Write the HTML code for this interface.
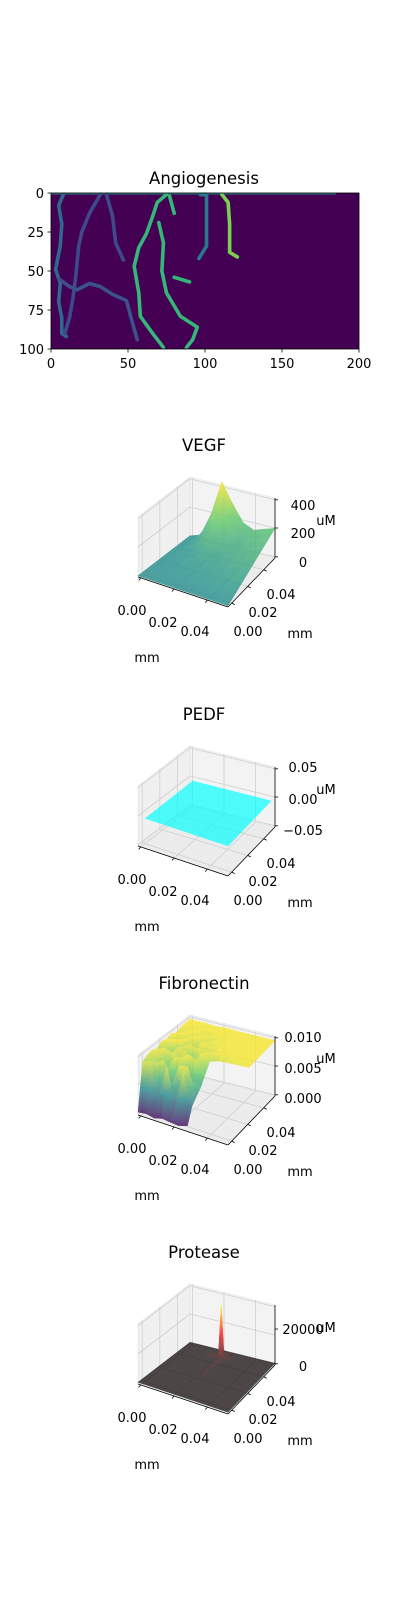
<!DOCTYPE html>
<html><head><meta charset="utf-8">
<style>
html,body{margin:0;padding:0;background:#fff;}
svg{display:block;font-family:"DejaVu Sans","Liberation Sans",sans-serif;}
.tk{font-size:13px;fill:#000;}
.tt{font-size:16.5px;fill:#000;}
</style></head>
<body>
<svg id="fig" width="400" height="1600" viewBox="0 0 400 1600" xmlns="http://www.w3.org/2000/svg">
  <defs id="defs"></defs>
  <g id="angio">
    <text class="tt" x="204" y="184" text-anchor="middle">Angiogenesis</text>
    <rect x="51" y="193" width="308" height="156" fill="#440154"/>
    <g id="vessels"></g>
    <rect x="51" y="193" width="308" height="156" fill="none" stroke="#000" stroke-width="0.8"/>
    <g id="angioTicks"></g>
  </g>
  <g id="panels3d"></g>
</svg>
<script>
const angioXTicks=[0,50,100,150,200];
const angioYTicks=[0,25,50,75,100];
const vesselColors=["#31688e","#3e4a89","#3e4a89","#3b528b","#2a788e","#35b779","#35b779","#35b779","#35b779","#7ad151"];
const vesselPaths=[
 [[8,1],[5,8],[7,20],[6,34],[3,49],[6,58],[5,70],[7,80],[7,90],[10,92]],
 [[32,1],[25,13],[20,25],[18,34],[16,54],[14,69],[12,80],[9,90]],
 [[36,1],[40,15],[42,32],[47,43]],
 [[5,55],[12,60],[17,62],[25,58],[32,60],[40,65],[49,69],[52,80],[56,94]],
 [[97,1],[101,1],[101,21],[101,34],[96,42]],
 [[75,1],[69,6],[66,15],[62,26],[57,35],[54,47],[57,64],[58,79],[66,90],[73,99]],
 [[70,19],[73,32],[72,50],[75,64],[84,79],[95,86],[92,94],[88,99]],
 [[77,2],[80,13]],
 [[80,54],[90,57]],
 [[111,1],[115,6],[116,20],[116,32],[116,38],[121,41]]
];
const topLineEnd=185;

const vegfS=[0,0.125,0.25,0.375,0.5,0.625,0.75,0.875,1];
const vegfT=[0,0.125,0.25,0.375,0.5,0.625,0.75,0.875,1];
const vegfZ=[
 [0,0,0,0,0,0,0,0,0],
 [0,3,6,9,13,16,19,22,25],
 [0,6,13,19,25,31,38,44,50],
 [0,9,19,28,38,47,56,66,75],
 [0,13,25,53,50,63,75,88,100],
 [0,16,31,87,88,78,94,109,125],
 [0,19,68,156,135,94,113,131,150],
 [0,22,124,316,238,139,131,153,175],
 [0,25,190,435,300,185,150,175,200]
];
const pedfS=[0.08,1];
const pedfT=[0,0.92];
const pedfZ=[[0,0],[0,0]];
const fibS=[0,0.09,0.18,0.27,0.36,0.45,0.55,0.64,0.73,0.82,0.91,1];
const fibT=[0,0.09,0.18,0.27,0.36,0.45,0.55,0.64,0.73,0.82,0.91,1];
const fibZ=[
 [0.3,0.5,0.2,0.6,0.4,0.3,0.8,null,null,null,null,null],
 [8.5,9.0,3.0,9.0,2.0,8.8,3.5,null,null,null,null,null],
 [9.0,8.2,9.0,5.0,9.0,9.2,4.5,null,null,null,null,null],
 [9.3,9.0,7.0,9.4,8.0,6.0,5.5,null,null,null,null,null],
 [8.8,9.4,9.0,8.5,9.5,9.0,7.0,null,null,null,null,null],
 [9.5,7.5,9.2,9.0,6.5,9.4,8.5,9.0,9.2,9.3,9.4,9.5],
 [9.2,9.6,8.6,9.5,9.1,8.8,9.3,9.5,9.5,9.5,9.5,9.5],
 [9.6,8.9,9.4,8.2,9.6,9.2,9.4,9.5,9.5,9.5,9.5,9.5],
 [9.0,9.5,9.1,9.6,8.8,9.5,9.5,9.5,9.5,9.5,9.5,9.5],
 [9.4,9.2,9.6,9.0,9.4,9.3,9.5,9.5,9.5,9.5,9.5,9.5],
 [9.5,9.6,9.3,9.5,9.6,9.4,9.5,9.5,9.5,9.5,9.5,9.5],
 [9.6,9.5,9.6,9.4,9.5,9.6,9.5,9.5,9.5,9.5,9.5,9.5]
];
const protS=[0,0.3,0.42,0.45,0.48,0.6,1];
const protT=[0,0.4,0.8,0.86,0.9,1];
const protZ=[
 [0,0,0,0,0,0,0],
 [0,0,0,0,0,0,0],
 [0,0,0,1500,0,0,0],
 [0,0,1500,30000,2000,0,0],
 [0,0,0,2000,0,0,0],
 [0,0,0,0,0,0,0]
];
const titles=["VEGF","PEDF","Fibronectin","Protease"];
const xTickLabels=["0.00","0.02","0.04"];
const yTickLabels=["0.04","0.02","0.00"];
const vegfZTicks=["400","200","0"];
const pedfZTicks=["0.05","0.00","\u22120.05"];
const fibZTicks=["0.010","0.005","0.000"];
const protZTicks=["20000","0"];

const NS="http://www.w3.org/2000/svg";
function mk(parent,tag,attrs,txt){const e=document.createElementNS(NS,tag);for(const k in attrs)e.setAttribute(k,attrs[k]);if(txt!==undefined)e.textContent=txt;parent.appendChild(e);return e;}

const ax=x=>51+x*308/200, ay=y=>193+y*156/100;
const vg=document.getElementById('vessels');
const topVessel=mk(vg,'line',{x1:ax(0),y1:ay(0.4),x2:ax(topLineEnd),y2:ay(0.4),stroke:'#2a8a8c','stroke-width':1.4});


vesselPaths.forEach((p,i)=>{
  const pl=mk(vg,'polyline',{points:p.map(q=>ax(q[0])+','+ay(q[1])).join(' '),fill:'none',stroke:vesselColors[i],'stroke-width':3.6,'stroke-linejoin':'round','stroke-linecap':'round'});
  
  
});
const atg=document.getElementById('angioTicks');
angioXTicks.forEach(v=>{
  const l=mk(atg,'line',{x1:ax(v),x2:ax(v),y1:349,y2:352.5,stroke:'#000','stroke-width':0.8});
  
  
  const t=mk(atg,'text',{x:ax(v),y:368,'text-anchor':'middle',class:'tk'},String(v));
  
  
});
angioYTicks.forEach(v=>{
  const l=mk(atg,'line',{x1:47.5,x2:51,y1:ay(v),y2:ay(v),stroke:'#000','stroke-width':0.8});
  
  
  const t=mk(atg,'text',{x:44,y:ay(v)+5,'text-anchor':'end',class:'tk'},String(v));
  
  
});

function hex(c){return '#'+c.map(v=>Math.max(0,Math.min(255,Math.round(v))).toString(16).padStart(2,'0')).join('');}
function cmap(stops,v){v=Math.max(0,Math.min(1,v));for(let i=1;i<stops.length;i++){if(v<=stops[i][0]){const a=stops[i-1],b=stops[i];const f=(v-a[0])/(b[0]-a[0]||1);return hex([0,1,2].map(k=>a[1][k]+(b[1][k]-a[1][k])*f));}}return hex(stops[stops.length-1][1]);}
const viridis=[[0,[68,1,84]],[0.25,[59,82,139]],[0.5,[33,145,140]],[0.75,[94,201,98]],[1,[253,231,37]]];
const hot=[[0,[10,0,0]],[0.375,[255,0,0]],[0.75,[255,255,0]],[1,[255,255,255]]];
const cyan=[[0,[0,255,255]],[1,[0,255,255]]];

const tickS=[0.03,0.4,0.77], tickT=[0.08,0.42,0.76], tickZ=[0.02,0.5,0.97];
function proj(k,s,t,zn){
  const dy=269*k;
  const x=(1-s)*(1-t)*138+s*(1-t)*228+(1-s)*t*190+s*t*275;
  const y=(1-s)*(1-t)*577+s*(1-t)*607+(1-s)*t*537+s*t*558+dy-zn*60;
  return [x,y];
}
const panels=[
 {S:vegfS,T:vegfT,Z:vegfZ,zMin:-8.4,zMax:412,cm:viridis,vmin:-400,vmax:440,op:0.78,zl:vegfZTicks,zy:[505,533,562]},
 {S:pedfS,T:pedfT,Z:pedfZ,zMin:-0.053,zMax:0.053,cm:cyan,vmin:0,vmax:1,op:0.68,zl:pedfZTicks,zy:[498,530,561]},
 {S:fibS,T:fibT,Z:fibZ,zMin:-0.2,zMax:10.3,cm:viridis,vmin:0,vmax:9.6,op:0.78,zl:fibZTicks,zy:[499,530,560]},
 {S:protS,T:protT,Z:protZ,zMin:-1000,zMax:33000,cm:hot,vmin:0,vmax:40000,op:0.7,zl:protZTicks,zy:[522,559]}
];
const root=document.getElementById('panels3d');
const defs=document.getElementById('defs');
let gid=0;
function pts(a){return a.map(p=>p[0].toFixed(2)+','+p[1].toFixed(2)).join(' ');}
panels.forEach((P,k)=>{
  const dy=269*k;
  const g=mk(root,'g',{});
  
  
  const ti=mk(g,'text',{x:204,y:451+dy,'text-anchor':'middle',class:'tt'},titles[k]);
  
  
  const pr=(s,t,z)=>proj(k,s,t,z);
  const lp=mk(g,'polygon',{points:pts([pr(0,0,0),pr(0,1,0),pr(0,1,1),pr(0,0,1)]),fill:'#f0f0f0',stroke:'#e2e2e2','stroke-width':0.6});
  
  
  const rp=mk(g,'polygon',{points:pts([pr(0,1,0),pr(1,1,0),pr(1,1,1),pr(0,1,1)]),fill:'#f3f3f3',stroke:'#e2e2e2','stroke-width':0.6});
  
  
  const fl=mk(g,'polygon',{points:pts([pr(0,0,0),pr(1,0,0),pr(1,1,0),pr(0,1,0)]),fill:'#ececec',stroke:'#e2e2e2','stroke-width':0.6});
  
  
  const gl=(a,b)=>{const l=mk(g,'line',{x1:a[0],y1:a[1],x2:b[0],y2:b[1],stroke:'#cfcfcf','stroke-width':0.8});
    
    };
  tickS.forEach(s=>{gl(pr(s,0,0),pr(s,1,0));gl(pr(s,1,0),pr(s,1,1));});
  tickT.forEach(t=>{gl(pr(0,t,0),pr(1,t,0));gl(pr(0,t,0),pr(0,t,1));});
  tickZ.forEach(z=>{gl(pr(0,0,z),pr(0,1,z));gl(pr(0,1,z),pr(1,1,z));});
  const sg=mk(g,'g',{opacity:P.op});
  
  
  const zn=z=>(z-P.zMin)/(P.zMax-P.zMin);
  const cn=z=>(z-P.vmin)/(P.vmax-P.vmin);
  const quads=[];
  for(let j=0;j<P.T.length-1;j++)for(let i=0;i<P.S.length-1;i++){
    const zs=[P.Z[j][i],P.Z[j][i+1],P.Z[j+1][i+1],P.Z[j+1][i]];
    if(zs.some(v=>v===null))continue;
    const cs=[[P.S[i],P.T[j]],[P.S[i+1],P.T[j]],[P.S[i+1],P.T[j+1]],[P.S[i],P.T[j+1]]];
    const p=cs.map((c,q)=>pr(c[0],c[1],zn(zs[q])));
    const depth=(P.T[j]+P.T[j+1])/2-(P.S[i]+P.S[i+1])/2;
    quads.push({p,zs,depth});
  }
  quads.sort((a,b)=>b.depth-a.depth);
  quads.forEach(q=>{
    const ys=q.p.map(v=>v[1]);
    const ymin=Math.min(...ys), ymax=Math.max(...ys);
    const zmx=Math.max(...q.zs), zmn=Math.min(...q.zs);
    const id='gr'+(gid++);
    const lg=mk(defs,'linearGradient',{id:id,gradientUnits:'userSpaceOnUse',x1:0,x2:0,y1:ymin,y2:ymax+0.01});
    mk(lg,'stop',{offset:0,'stop-color':cmap(P.cm,cn(zmx))});
    mk(lg,'stop',{offset:0.5,'stop-color':cmap(P.cm,cn((zmx+zmn)/2))});
    mk(lg,'stop',{offset:1,'stop-color':cmap(P.cm,cn(zmn))});
    const poly=mk(sg,'polygon',{points:pts(q.p),fill:'url(#'+id+')',stroke:'url(#'+id+')','stroke-width':0.5,'stroke-linejoin':'round'});
    
    
  });
  const axl=(a,b,n)=>{const l=mk(g,'line',{x1:a[0],y1:a[1],x2:b[0],y2:b[1],stroke:'#000','stroke-width':0.8});
    
    };
  axl(pr(0,0,0),pr(1,0,0),'x-axis-line');
  axl(pr(1,0,0),pr(1,1,0),'y-axis-line');
  axl(pr(1,1,0),pr(1,1,1),'z-axis-line');
  tickS.forEach(s=>{const a=pr(s,0,0);axl(a,[a[0]-2,a[1]+2.5],'x-tick-mark');});
  tickT.forEach(t=>{const a=pr(1,t,0);axl(a,[a[0]+3,a[1]+1.5],'y-tick-mark');});
  (P.zl.length===3?tickZ:[0.6,0.02]).forEach(z=>{const a=pr(1,1,z);axl(a,[a[0]+3,a[1]],'z-tick-mark');});
  const xl=[[132,610],[163,622],[195,631]], yl=[[281,594],[263,612],[248,631]];
  xTickLabels.forEach((s,i)=>{const t=mk(g,'text',{x:xl[i][0],y:xl[i][1]+5+dy,'text-anchor':'middle',class:'tk'},s);
    
    });
  yTickLabels.forEach((s,i)=>{const t=mk(g,'text',{x:yl[i][0],y:yl[i][1]+5+dy,'text-anchor':'middle',class:'tk'},s);
    
    });
  P.zl.forEach((s,i)=>{const t=mk(g,'text',{x:303,y:P.zy[i]+5+dy,'text-anchor':'middle',class:'tk'},s);
    
    });
  const xt=mk(g,'text',{x:147,y:662+dy,'text-anchor':'middle',class:'tk'},'mm');
  
  
  const yt=mk(g,'text',{x:300,y:638+dy,'text-anchor':'middle',class:'tk'},'mm');
  
  
  const zt=mk(g,'text',{x:326,y:525+dy,'text-anchor':'middle',class:'tk'},'uM');
  
  
});
</script>
</body></html>
